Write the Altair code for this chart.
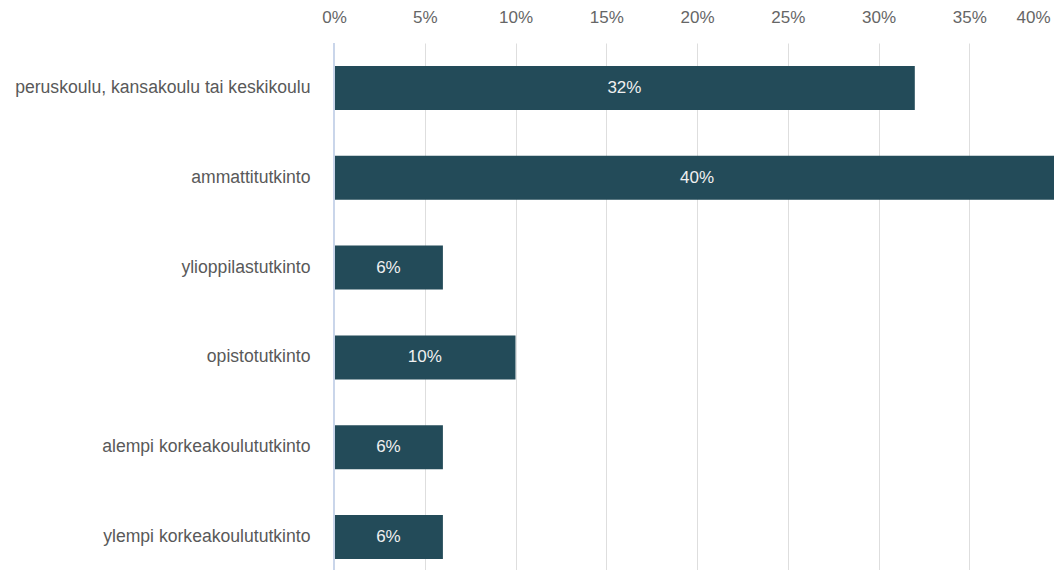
import altair as alt
import pandas as pd

categories = [
    "peruskoulu, kansakoulu tai keskikoulu",
    "ammattitutkinto",
    "ylioppilastutkinto",
    "opistotutkinto",
    "alempi korkeakoulututkinto",
    "ylempi korkeakoulututkinto",
]
values = [32, 40, 6, 10, 6, 6]
labels = ["32%", "40%", "6%", "10%", "6%", "6%"]

df = pd.DataFrame({"cat": categories, "val": [v / 100 for v in values], "lab": labels})
df["mid"] = df["val"] / 2

FONT = "Liberation Sans"
FS = 17

y_scale = alt.Scale(paddingInner=0.51, paddingOuter=0.255, range=[0, 539])

y_enc = alt.Y("cat:N", sort=categories, title=None, scale=y_scale,
              axis=alt.Axis(domain=False, ticks=False, labelPadding=24, labelFontSize=17.6,
                            labelColor="#595959", labelFont=FONT, labelLimit=400, grid=False))

x_scale = alt.Scale(domain=[0, 0.4], nice=False, range=[0, 726])

bars = alt.Chart(df).mark_bar(color="#234b59").encode(
    x=alt.X("val:Q", title=None, scale=x_scale,
            axis=alt.Axis(orient="top", format=".0%", values=[i * 0.05 for i in range(9)],
                          domain=False, ticks=False, labelPadding=17, labelFontSize=FS,
                          labelColor="#666666", labelFont=FONT, grid=True,
                          gridColor="#dedede", labelFlush=False,
                          labelAlign=alt.expr("datum.value >= 0.399 ? 'right' : 'center'"),
                          labelOffset=alt.expr("datum.value >= 0.399 ? -10 : 0"))),
    y=y_enc,
)

zero = alt.Chart(df).mark_rule(color="#c9d5ea", strokeWidth=1).encode(
    x=alt.datum(0, scale=x_scale),
)

text = alt.Chart(df).mark_text(color="#f0f0f0", fontSize=FS, font=FONT).encode(
    x=alt.X("mid:Q", scale=x_scale),
    y=alt.Y("cat:N", sort=categories, scale=y_scale),
    text="lab:N",
)

chart = alt.layer(bars, zero, text).properties(
    width=720, height=527,
    autosize=alt.AutoSizeParams(type="none"),
    padding={"left": 326, "top": 35, "right": 0, "bottom": 0},
).configure_view(stroke=None)

chart.save("out.html", embed_options={"renderer": "svg", "actions": False})
